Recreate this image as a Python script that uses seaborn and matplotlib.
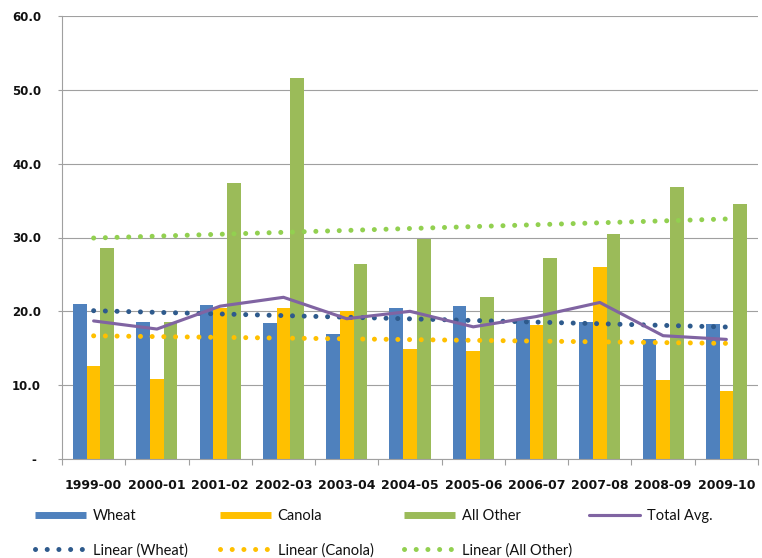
import numpy as np
import pandas as pd
import matplotlib
matplotlib.use("Agg")
import matplotlib.pyplot as plt
from matplotlib.lines import Line2D
import seaborn as sns

# ---- data -------------------------------------------------------------
seasons = ["1999-00", "2000-01", "2001-02", "2002-03", "2003-04", "2004-05",
           "2005-06", "2006-07", "2007-08", "2008-09", "2009-10"]
wheat = [21.0, 18.5, 20.8, 18.4, 16.9, 20.5, 20.7, 18.8, 18.6, 16.3, 18.3]
canola = [12.6, 10.9, 20.4, 20.5, 20.0, 14.9, 14.6, 18.1, 26.0, 10.7, 9.2]
all_other = [28.6, 18.6, 37.4, 51.6, 26.4, 29.8, 22.0, 27.2, 30.5, 36.8, 34.5]
total_avg = [18.7, 17.6, 20.7, 21.9, 19.0, 20.0, 17.9, 19.3, 21.2, 16.7, 16.2]
crops = ["Wheat", "Canola", "All Other"]
y_ticks = [0, 10, 20, 30, 40, 50, 60]
y_tick_labels = ["- ", "10.0", "20.0", "30.0", "40.0", "50.0", "60.0"]

# ---- styling ----------------------------------------------------------
bar_colors = {"Wheat": "#4F81BD", "Canola": "#FFC000", "All Other": "#9BBB59"}
trend_colors = {"Wheat": "#2E5A8C", "Canola": "#FFC000", "All Other": "#92D050"}
avg_color = "#8064A2"
grid_gray = "#A0A0A0"
text_color = "#111111"
DOT_LW = 3.6
DOTS = (0, (0.01, 2.33))

sns.set_style("white")
plt.rcParams["font.family"] = ["DejaVu Sans"]
plt.rcParams["text.color"] = text_color

fig = plt.figure(figsize=(7.62, 5.58), dpi=100)
ax = fig.add_axes([62 / 762, 1 - 459 / 558, (758 - 62) / 762, (459 - 16) / 558])

# ---- grouped bars -----------------------------------------------------
df = pd.DataFrame({
    "Season": seasons * 3,
    "Crop": [c for c in crops for _ in seasons],
    "Value": wheat + canola + all_other,
})
sns.barplot(data=df, x="Season", y="Value", hue="Crop", hue_order=crops,
            palette=bar_colors, width=0.65, saturation=1, linewidth=0,
            errorbar=None, legend=False, ax=ax)

# ---- linear trend lines ----------------------------------------------
xpos = np.arange(len(seasons))
for crop, vals in zip(crops, [wheat, canola, all_other]):
    sns.regplot(x=xpos, y=np.array(vals), scatter=False, ci=None, ax=ax,
                line_kws=dict(color=trend_colors[crop], lw=DOT_LW,
                              linestyle=DOTS, dash_capstyle="round", zorder=4))

# ---- total average line ----------------------------------------------
sns.pointplot(x=seasons, y=total_avg, color=avg_color, marker="",
              linestyle="-", linewidth=2.25, errorbar=None, ax=ax, zorder=5)

# ---- axes -------------------------------------------------------------
ax.set_xlim(-0.5, len(seasons) - 0.5)
ax.set_ylim(0, 60)
ax.set_xlabel("")
ax.set_ylabel("")
ax.set_yticks(y_ticks)
ax.set_yticklabels(y_tick_labels, fontweight="bold", fontsize=8.5)
ax.set_xticks(xpos)
ax.set_xticklabels(seasons, fontweight="bold", fontsize=9)
ax.set_xticks(np.arange(-0.5, len(seasons)), minor=True)
ax.tick_params(axis="x", which="major", length=0, pad=14.5,
               labelcolor=text_color)
ax.tick_params(axis="x", which="minor", length=4, width=0.8, color=grid_gray,
               direction="out", bottom=True)
ax.tick_params(axis="y", length=3, width=0.8, color=grid_gray, pad=12,
               direction="out", left=True, labelcolor=text_color)
ax.yaxis.grid(True, color=grid_gray, lw=0.8)
ax.set_axisbelow(True)
for side in ("top", "right"):
    ax.spines[side].set_visible(False)
for side in ("left", "bottom"):
    ax.spines[side].set_color(grid_gray)
    ax.spines[side].set_linewidth(0.8)

# ---- legend (four evenly spaced columns) -----------------------------
def bar_handle(c):
    return Line2D([], [], color=c, lw=5, solid_capstyle="butt")

def dot_handle(c):
    return Line2D([], [], color=c, lw=DOT_LW, linestyle=DOTS,
                  dash_capstyle="round")

columns = [
    ([bar_handle(bar_colors["Wheat"]), dot_handle(trend_colors["Wheat"])],
     ["Wheat", "Linear (Wheat)"]),
    ([bar_handle(bar_colors["Canola"]), dot_handle(trend_colors["Canola"])],
     ["Canola", "Linear (Canola)"]),
    ([bar_handle(bar_colors["All Other"]), dot_handle(trend_colors["All Other"])],
     ["All Other", "Linear (All Other)"]),
    ([Line2D([], [], color=avg_color, lw=2.25)], ["Total Avg."]),
]
col_x = [35, 220, 404, 589]
for x0, (handles, labels) in zip(col_x, columns):
    fig.legend(handles, labels, loc="upper left",
               bbox_to_anchor=(x0 / 762, 1 - 509 / 558),
               frameon=False, borderpad=0, borderaxespad=0,
               handlelength=3.5, handletextpad=0.45, labelspacing=1.37,
               labelcolor=text_color,
               prop={"family": ["Lato", "DejaVu Sans"], "size": 10.5})

fig.savefig("out.png", dpi=100, facecolor="white")
